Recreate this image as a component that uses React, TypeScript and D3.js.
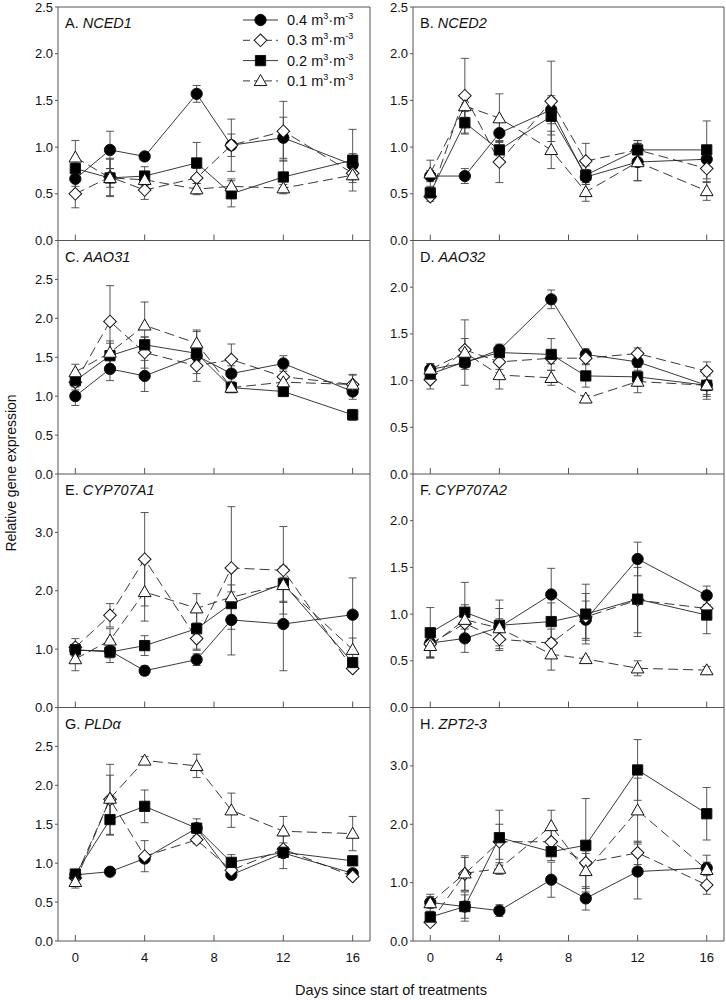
import React from 'react';
import * as d3 from 'd3';

// sampling days (x)
const days = [0, 2, 4, 7, 9, 12, 16];
const xTicks = [0, 4, 8, 12, 16];

// series order: 0.4, 0.3, 0.2, 0.1 m3 m-3
const seriesLabels = ['0.4', '0.3', '0.2', '0.1'];

const panelLetters = ['A.', 'B.', 'C.', 'D.', 'E.', 'F.', 'G.', 'H.'];
const geneNames = ['NCED1', 'NCED2', 'AAO31', 'AAO32', 'CYP707A1', 'CYP707A2', 'PLDα', 'ZPT2-3'];
const yMax = [2.5, 2.5, 3, 2.5, 4, 2.5, 3, 4];
const yTickSets = [
  [0, 0.5, 1, 1.5, 2, 2.5],
  [0, 0.5, 1, 1.5, 2, 2.5],
  [0, 0.5, 1, 1.5, 2, 2.5],
  [0, 0.5, 1, 1.5, 2],
  [0, 1, 2, 3],
  [0, 0.5, 1, 1.5, 2],
  [0, 0.5, 1, 1.5, 2, 2.5],
  [0, 1, 2, 3],
];

// means and SE, one row per series (0.4, 0.3, 0.2, 0.1)
const nced1Means = [
  [0.66, 0.97, 0.90, 1.57, 1.02, 1.10, 0.81],
  [0.50, 0.68, 0.54, 0.67, 1.02, 1.17, 0.72],
  [0.77, 0.67, 0.69, 0.83, 0.50, 0.68, 0.86],
  [0.89, 0.67, 0.65, 0.55, 0.58, 0.56, 0.70],
];
const nced1Errs = [
  [0.08, 0.20, 0.04, 0.09, 0.12, 0.22, 0.12],
  [0.15, 0.20, 0.10, 0.10, 0.28, 0.32, 0.10],
  [0.07, 0.20, 0.10, 0.22, 0.14, 0.18, 0.33],
  [0.18, 0.10, 0.08, 0.06, 0.08, 0.04, 0.05],
];
const nced2Means = [
  [0.69, 0.69, 1.15, 1.40, 0.68, 0.84, 0.87],
  [0.47, 1.55, 0.84, 1.49, 0.85, 0.97, 0.77],
  [0.51, 1.26, 0.97, 1.33, 0.70, 0.97, 0.97],
  [0.72, 1.44, 1.31, 0.97, 0.52, 0.84, 0.53],
];
const nced2Errs = [
  [0.06, 0.08, 0.15, 0.15, 0.08, 0.20, 0.10],
  [0.05, 0.40, 0.22, 0.43, 0.19, 0.10, 0.15],
  [0.06, 0.12, 0.10, 0.20, 0.10, 0.10, 0.31],
  [0.14, 0.12, 0.26, 0.20, 0.10, 0.20, 0.10],
];
const aao31Means = [
  [1.00, 1.35, 1.26, 1.52, 1.29, 1.42, 1.06],
  [1.18, 1.96, 1.56, 1.39, 1.47, 1.25, 1.15],
  [1.20, 1.52, 1.66, 1.55, 1.11, 1.06, 0.76],
  [1.31, 1.56, 1.91, 1.68, 1.11, 1.18, 1.15],
];
const aao31Errs = [
  [0.12, 0.15, 0.20, 0.33, 0.10, 0.10, 0.10],
  [0.10, 0.46, 0.20, 0.10, 0.20, 0.10, 0.12],
  [0.08, 0.16, 0.10, 0.10, 0.06, 0.05, 0.07],
  [0.10, 0.15, 0.30, 0.15, 0.05, 0.05, 0.13],
];
const aao32Means = [
  [1.12, 1.19, 1.33, 1.87, 1.28, 1.20, 0.95],
  [1.01, 1.33, 1.20, 1.24, 1.24, 1.29, 1.10],
  [1.07, 1.20, 1.30, 1.28, 1.05, 1.04, 0.95],
  [1.12, 1.30, 1.06, 1.03, 0.81, 0.99, 0.95],
];
const aao32Errs = [
  [0.06, 0.07, 0.06, 0.10, 0.06, 0.05, 0.10],
  [0.10, 0.12, 0.08, 0.06, 0.06, 0.06, 0.10],
  [0.06, 0.06, 0.07, 0.17, 0.12, 0.10, 0.12],
  [0.06, 0.35, 0.15, 0.08, 0.03, 0.12, 0.15],
];
const cyp1Means = [
  [0.98, 0.97, 0.63, 0.82, 1.50, 1.43, 1.59],
  [1.03, 1.58, 2.54, 1.18, 2.39, 2.35, 0.67],
  [0.99, 0.95, 1.06, 1.35, 1.78, 2.12, 0.77],
  [0.83, 1.15, 1.98, 1.70, 1.89, 2.10, 0.99],
];
const cyp1Errs = [
  [0.10, 0.20, 0.08, 0.10, 0.60, 0.80, 0.63],
  [0.15, 0.20, 0.80, 0.20, 1.05, 0.75, 0.05],
  [0.10, 0.10, 0.17, 0.35, 0.20, 0.30, 0.08],
  [0.20, 0.20, 0.50, 0.25, 0.45, 0.30, 0.20],
];
const cyp2Means = [
  [0.69, 0.74, 0.86, 1.21, 0.94, 1.59, 1.20],
  [0.68, 0.90, 0.73, 0.69, 0.97, 1.15, 1.06],
  [0.80, 1.02, 0.88, 0.92, 1.00, 1.16, 0.99],
  [0.66, 0.94, 0.85, 0.57, 0.52, 0.42, 0.40],
];
const cyp2Errs = [
  [0.15, 0.15, 0.20, 0.28, 0.20, 0.18, 0.10],
  [0.15, 0.20, 0.10, 0.15, 0.25, 0.35, 0.10],
  [0.27, 0.32, 0.27, 0.20, 0.32, 0.40, 0.20],
  [0.12, 0.10, 0.10, 0.17, 0.02, 0.08, 0.04],
];
const pldMeans = [
  [0.85, 0.89, 1.06, 1.45, 0.85, 1.13, 0.87],
  [0.81, 1.82, 1.09, 1.30, 0.91, 1.18, 0.83],
  [0.86, 1.56, 1.73, 1.45, 1.01, 1.14, 1.03],
  [0.76, 1.83, 2.32, 2.25, 1.68, 1.41, 1.38],
];
const pldErrs = [
  [0.03, 0.03, 0.05, 0.05, 0.04, 0.05, 0.04],
  [0.06, 0.45, 0.20, 0.05, 0.05, 0.08, 0.04],
  [0.05, 0.20, 0.21, 0.12, 0.10, 0.21, 0.06],
  [0.08, 0.30, 0.05, 0.15, 0.22, 0.19, 0.22],
];
const zptMeans = [
  [0.66, 0.59, 0.52, 1.05, 0.73, 1.19, 1.25],
  [0.32, 1.15, 1.70, 1.70, 1.34, 1.51, 0.96],
  [0.41, 0.59, 1.77, 1.53, 1.64, 2.93, 2.18],
  [0.65, 1.16, 1.24, 1.97, 1.20, 2.24, 1.22],
];
const zptErrs = [
  [0.10, 0.20, 0.10, 0.30, 0.20, 0.47, 0.10],
  [0.05, 0.28, 0.30, 0.20, 0.20, 0.20, 0.16],
  [0.10, 0.25, 0.47, 0.15, 0.80, 0.52, 0.45],
  [0.15, 0.30, 0.10, 0.27, 0.30, 0.55, 0.25],
];

const allMeans = [nced1Means, nced2Means, aao31Means, aao32Means, cyp1Means, cyp2Means, pldMeans, zptMeans];
const allErrs = [nced1Errs, nced2Errs, aao31Errs, aao32Errs, cyp1Errs, cyp2Errs, pldErrs, zptErrs];

// layout
const colX = [[58, 370], [413, 724]];
const rowTop = 7;
const rowH = 233.5;
const font = '"Liberation Sans", Arial, sans-serif';
const axisCol = '#555';
const lineCol = '#222';

const dashes = [null, '10,5', null, '10,5'];
const symbolTypes = [d3.symbolCircle, d3.symbolSquare, d3.symbolSquare, d3.symbolTriangle];
const symbolSizes = [100, 80, 105, 70];
const symbolRot = [0, 45, 0, 0];
const symbolFill = ['#000', '#fff', '#000', '#fff'];

function Marker({ s, x, y }: { s: number; x: number; y: number }) {
  const d = d3.symbol().type(symbolTypes[s]).size(symbolSizes[s])() as string;
  const dy = s === 3 ? 1 : 0;
  return (
    <path
      d={d}
      transform={`translate(${x},${y + dy}) rotate(${symbolRot[s]})`}
      fill={symbolFill[s]}
      stroke="#111"
      strokeWidth={1}
    />
  );
}

function Panel({ i }: { i: number }) {
  const col = i % 2;
  const row = Math.floor(i / 2);
  const [x0, x1] = colX[col];
  const top = rowTop + row * rowH;
  const bottom = top + rowH;
  const x = d3.scaleLinear().domain([-1, 17]).range([x0, x1]);
  const y = d3.scaleLinear().domain([0, yMax[i]]).range([bottom, top]);
  const fmt = d3.format('.1f');
  const means = allMeans[i];
  const errs = allErrs[i];
  const lineGen = d3
    .line<number>()
    .x((_, k) => x(days[k]))
    .y((v) => y(v));

  return (
    <g>
      {/* frame */}
      <line x1={x0} x2={x1} y1={bottom} y2={bottom} stroke={axisCol} />
      <line x1={x0} x2={x0} y1={top} y2={bottom} stroke={axisCol} />
      <line x1={x1} x2={x1} y1={top} y2={bottom} stroke={axisCol} />
      {row === 0 && <line x1={x0} x2={x1} y1={top} y2={top} stroke={axisCol} />}
      {/* x ticks inward */}
      {xTicks.map((t) => (
        <line key={t} x1={x(t)} x2={x(t)} y1={bottom} y2={bottom - 6} stroke={axisCol} />
      ))}
      {/* y ticks + labels */}
      {yTickSets[i].map((t) => (
        <g key={t}>
          <line x1={x0 - 3} x2={x0} y1={y(t)} y2={y(t)} stroke={axisCol} />
          <text x={x0 - 5} y={y(t)} dy="0.35em" textAnchor="end" fontSize={13} fontFamily={font} fill="#111">
            {fmt(t)}
          </text>
        </g>
      ))}
      {row === 3 &&
        xTicks.map((t) => (
          <text key={t} x={x(t)} y={962} textAnchor="middle" fontSize={13} fontFamily={font} fill="#111">
            {t}
          </text>
        ))}
      {/* panel title */}
      <text x={x0 + 7} y={top + 21} fontSize={14.5} fontFamily={font} fill="#111">
        {panelLetters[i]} <tspan fontStyle="italic">{geneNames[i]}</tspan>
      </text>
      {/* error bars */}
      {means.map((ser, s) =>
        ser.map((v, k) => {
          const cx = x(days[k]);
          const hi = y(v + errs[s][k]);
          const lo = y(v - errs[s][k]);
          return (
            <g key={`e${s}-${k}`} stroke="#444" strokeWidth={0.9}>
              <line x1={cx} x2={cx} y1={hi} y2={lo} />
              <line x1={cx - 4} x2={cx + 4} y1={hi} y2={hi} />
              <line x1={cx - 4} x2={cx + 4} y1={lo} y2={lo} />
            </g>
          );
        })
      )}
      {/* lines and markers per series */}
      {means.map((ser, s) => (
        <g key={`s${s}`}>
          <path
            d={lineGen(ser) as string}
            fill="none"
            stroke={lineCol}
            strokeWidth={0.9}
            strokeDasharray={dashes[s] ?? undefined}
          />
          {ser.map((v, k) => (
            <Marker key={k} s={s} x={x(days[k])} y={y(v)} />
          ))}
        </g>
      ))}
    </g>
  );
}

function Legend() {
  const lx0 = 243;
  const lx1 = 278;
  return (
    <g>
      {seriesLabels.map((lab, s) => {
        const yy = 20 + s * 20.3;
        return (
          <g key={lab}>
            <line x1={lx0} x2={lx1} y1={yy} y2={yy} stroke={lineCol} strokeWidth={0.9} strokeDasharray={dashes[s] ? '7,4' : undefined} />
            <Marker s={s} x={(lx0 + lx1) / 2} y={yy} />
            <text x={287} y={yy + 5} fontSize={14.5} fontFamily={font} fill="#111">
              {lab} m
              <tspan dy={-6} fontSize={9}>3</tspan>
              <tspan dy={6}>·m</tspan>
              <tspan dy={-6} fontSize={9}>-3</tspan>
            </text>
          </g>
        );
      })}
    </g>
  );
}

export default function App() {
  return (
    <svg
      width={726}
      height={1000}
      viewBox="0 0 726 1000"
      style={{ position: 'absolute', left: 0, top: 0, background: '#fff' }}
    >
      <rect width={726} height={1000} fill="#fff" />
      {panelLetters.map((_, i) => (
        <Panel key={i} i={i} />
      ))}
      <Legend />
      <text
        transform="translate(16,473) rotate(-90)"
        textAnchor="middle"
        fontSize={14}
        fontFamily={font}
        fill="#111"
      >
        Relative gene expression
      </text>
      <text x={391} y={995} textAnchor="middle" fontSize={14.5} fontFamily={font} fill="#111">
        Days since start of treatments
      </text>
    </svg>
  );
}
